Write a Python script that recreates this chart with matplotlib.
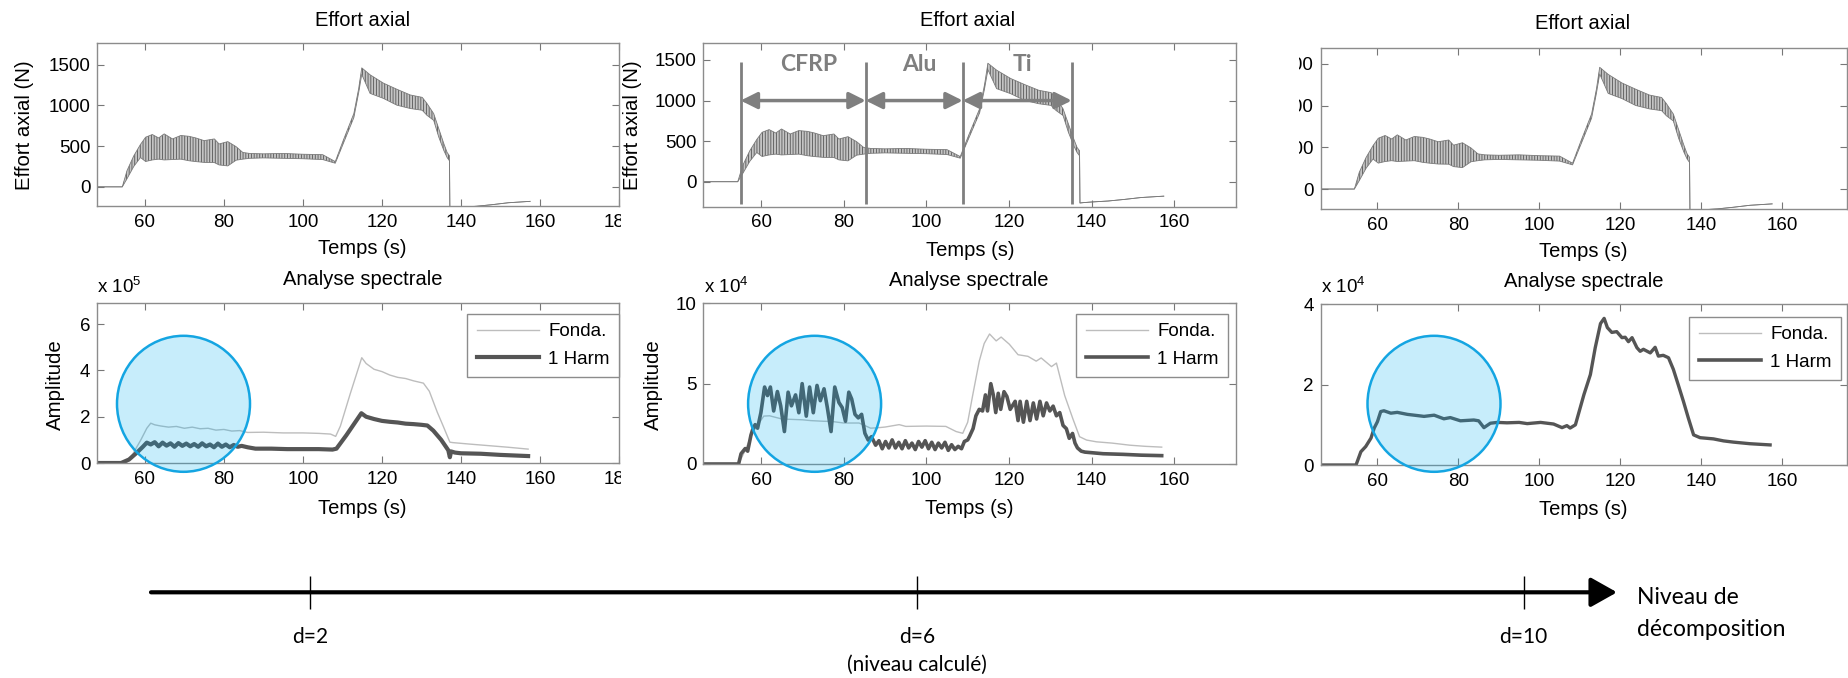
import matplotlib.pyplot as plt
from matplotlib.patches import Ellipse
from matplotlib.lines import Line2D
from matplotlib.transforms import Bbox, TransformedBbox

W, H = 1849, 678

# effort axial (N) : enveloppes basse / haute des oscillations
t_effort = [46, 54.3, 55.5, 57.2, 58.9, 60.2, 61.9, 63.5, 64.9, 67.0, 69.1, 71.2, 72.9, 75.0, 77.6, 78.8,
            81.0, 83.1, 84.8, 86.5, 90, 95, 100, 105, 108.2, 110.3, 112.9, 114.1, 114.9, 117.0, 120.4,
            123.8, 127.2, 130.2, 131.4, 133.1, 134.4, 135.7, 136.5, 137.1, 137.2, 138, 140, 144, 148,
            152, 157.5]
effort_hi = [0, 0, 200, 380, 520, 609, 642, 600, 650, 588, 630, 620, 600, 567, 588, 526, 555, 493, 422,
             410, 405, 410, 400, 395, 310, 580, 900, 1200, 1460, 1375, 1272, 1197, 1127, 1098, 1023, 899,
             712, 526, 422, 381, -262, -258, -250, -238, -218, -195, -178]
effort_lo = [0, 0, 100, 250, 360, 311, 330, 340, 330, 335, 340, 320, 310, 300, 298, 269, 257, 327, 340,
             350, 355, 350, 345, 335, 290, 540, 850, 1150, 1380, 1147, 1085, 1002, 961, 940, 878, 816,
             609, 443, 360, 319, -262, -258, -250, -238, -218, -195, -178]

zones = ['CFRP', 'Alu', 'Ti']
zone_edges = [55.0, 85.3, 108.8, 135.2]

# analyse spectrale, d=2 (x 1e5)
t_fonda_d2 = [48, 55.3, 57, 59, 60.5, 61.5, 62.5, 64, 66, 68, 70, 72, 74, 76, 78, 80, 82, 84, 86, 90,
              95, 100, 104, 107, 108.3, 109.5, 112, 114.9, 116, 118, 120, 122, 124, 126, 128, 130.5,
              132, 134, 135.5, 137.2, 138, 142, 147, 152, 157]
fonda_d2 = [0, 0, 0.4, 1.0, 1.5, 1.72, 1.65, 1.6, 1.55, 1.58, 1.5, 1.55, 1.48, 1.5, 1.42, 1.45, 1.38,
            1.4, 1.32, 1.33, 1.3, 1.3, 1.28, 1.25, 1.15, 1.6, 3.0, 4.55, 4.3, 4.05, 3.95, 3.8, 3.7,
            3.65, 3.55, 3.45, 3.1, 2.2, 1.6, 0.9, 0.88, 0.82, 0.75, 0.68, 0.6]
t_harm_d2 = [48, 54, 56, 58, 59.5, 60.5, 61.5, 62.5, 63.5, 64.5, 65.5, 66.5, 67.5, 68.5, 69.5, 70.5,
             71.5, 72.5, 73.5, 74.5, 75.5, 76.5, 77.5, 78.5, 79.5, 80.5, 81.5, 82.5, 83.5, 84.5, 86,
             88, 92, 96, 100, 104, 107.5, 108.5, 111, 113, 114.8, 116, 118, 120, 122, 124, 126, 128,
             130, 131.5, 133, 135, 136.8, 137.2, 137.5, 138.5, 140, 145, 150, 157]
harm_d2 = [0, 0, 0.15, 0.45, 0.7, 0.88, 0.8, 0.9, 0.72, 0.88, 0.75, 0.85, 0.7, 0.86, 0.74, 0.84, 0.72,
           0.82, 0.7, 0.85, 0.72, 0.8, 0.68, 0.84, 0.7, 0.8, 0.68, 0.78, 0.7, 0.74, 0.68, 0.62, 0.62,
           0.6, 0.6, 0.6, 0.58, 0.62, 1.2, 1.7, 2.15, 2.0, 1.9, 1.82, 1.78, 1.75, 1.7, 1.68, 1.65, 1.62,
           1.4, 1.0, 0.55, 0.25, 0.5, 0.45, 0.42, 0.4, 0.35, 0.3]

# d=6 (x 1e4)
t_fonda_d6 = [46, 54.5, 56, 58, 60.6, 62, 65, 68, 70, 72, 75, 77, 80, 83.7, 85, 86.5, 88, 90, 93.4, 95,
              100, 104.7, 107.2, 108.8, 110, 111.2, 112.8, 114, 115.3, 116.9, 118.1, 120.1, 122.2,
              124.6, 126.6, 127.8, 130.3, 131.5, 133.5, 135.5, 137.1, 138.8, 141.2, 145, 149.3, 153, 157]
fonda_d6 = [0, 0, 0.8, 2.0, 2.98, 3.0, 2.8, 2.77, 2.75, 2.7, 2.66, 2.65, 2.55, 2.55, 2.4, 2.23, 2.25,
            2.3, 2.45, 2.34, 2.36, 2.34, 2.02, 1.91, 2.6, 4.26, 6.4, 7.5, 8.09, 7.66, 7.9, 7.45, 6.8,
            6.7, 6.4, 6.6, 6.06, 6.28, 4.26, 2.8, 1.7, 1.49, 1.38, 1.3, 1.17, 1.1, 1.05]
t_harm_d6 = [46, 54.5, 55.1, 56.1, 56.7, 57.5, 57.9, 58.5, 59.1, 59.9, 60.8, 61.5, 62.2, 63.0, 63.9,
             64.7, 65.6, 66.5, 67.3, 68.3, 69.1, 69.9, 70.9, 71.7, 72.6, 73.5, 74.3, 75.2, 76.0, 76.9,
             77.8, 78.8, 79.6, 80.4, 81.2, 81.9, 82.7, 83.5, 84.3, 85.1, 85.9, 86.7, 87.7, 88.5, 89.3,
             90.1, 90.9, 91.7, 92.5, 93.3, 94.1, 94.9, 95.7, 96.5, 97.3, 98.1, 98.9, 99.7, 100.5,
             101.3, 102.1, 102.9, 103.7, 104.5, 105.3, 106.1, 106.9, 107.7, 108.5, 109.2, 110.0,
             110.5, 111.3, 112.0, 112.8, 113.6, 114.3, 114.8, 115.6, 116.2, 116.8, 117.4, 118.0,
             118.8, 119.5, 120.3, 121.5, 122.2, 122.7, 123.5, 124.3, 125.1, 125.9, 126.7, 127.5,
             128.3, 129.1, 129.9, 130.7, 131.5, 132.3, 133.1, 133.9, 134.6, 135.4, 136.0, 136.6,
             137.5, 138.4, 142.8, 147.7, 152.0, 157.0]
harm_d6 = [0, 0, 0.64, 0.96, 0.8, 1.8, 2.13, 2.45, 2.23, 3.19, 4.79, 4.26, 4.79, 3.3, 4.51, 3.62, 2.02,
           4.47, 3.62, 4.3, 3.19, 5.0, 2.98, 4.79, 3.19, 4.89, 3.94, 4.68, 3.51, 2.02, 4.79, 3.83,
           3.51, 2.66, 4.47, 4.04, 3.09, 2.87, 3.09, 1.91, 1.49, 1.7, 1.17, 1.45, 0.95, 1.4, 1.0, 1.5,
           1.0, 1.35, 0.95, 1.45, 1.0, 1.3, 0.9, 1.4, 1.05, 1.45, 0.95, 1.35, 0.9, 1.3, 1.0, 1.35,
           0.85, 1.2, 0.9, 1.1, 0.95, 1.4, 1.5, 1.75, 2.2, 3.0, 3.4, 3.3, 4.3, 3.3, 5.0, 4.3, 3.2, 4.4,
           3.4, 4.5, 4.2, 3.4, 3.9, 2.7, 3.9, 2.6, 3.9, 2.7, 3.8, 2.8, 3.9, 3.0, 3.8, 3.3, 3.6, 3.0,
           3.2, 2.4, 2.2, 1.6, 1.9, 1.3, 1.0, 0.8, 0.74, 0.64, 0.6, 0.55, 0.52]

# d=10 (x 1e4), fondamentale confondue avec l'harmonique
t_harm_d10 = [46, 54.7, 55.9, 57.1, 58.4, 59.2, 60, 60.8, 61.6, 63.3, 64.9, 67.4, 69.9, 71.5, 74, 76.4,
              78, 80.5, 83.8, 85, 86.3, 87.9, 89.6, 92, 95, 97, 100.3, 103.5, 105.6, 106.8, 107.6,
              108.9, 111, 112.6, 113.8, 115.1, 116, 116.8, 117.9, 119.1, 120.4, 121.2, 122, 122.9,
              124.1, 124.9, 125.7, 127.4, 128.6, 129.4, 130.6, 131.9, 133.1, 134.3, 135.6, 136.8,
              138.1, 139.7, 143, 145.5, 147.9, 152, 157]
harm_d10 = [0, 0, 0.33, 0.46, 0.67, 0.92, 1.08, 1.33, 1.35, 1.29, 1.31, 1.26, 1.23, 1.21, 1.24, 1.15,
            1.18, 1.1, 1.12, 1.1, 0.93, 1.04, 1.06, 1.05, 1.06, 1.03, 1.06, 1.02, 0.93, 0.98, 0.92,
            1.0, 1.75, 2.25, 2.92, 3.52, 3.65, 3.42, 3.3, 3.32, 3.17, 3.18, 3.07, 3.17, 2.92, 2.83,
            2.88, 2.79, 2.93, 2.71, 2.73, 2.67, 2.38, 2.0, 1.58, 1.17, 0.75, 0.68, 0.65, 0.6, 0.57,
            0.53, 0.5]

levels = ['d=2', 'd=6', 'd=10']
level_notes = ['', '(niveau calculé)', '']

plt.rcParams['font.family'] = ['Liberation Sans', 'DejaVu Sans']
plt.rcParams['font.size'] = 13.5
plt.rcParams['hatch.color'] = '#555555'
plt.rcParams['hatch.linewidth'] = 0.6

GRID = '#8c8c8c'
FONDA = '#bdbdbd'
HARM = '#555555'

fig = plt.figure(figsize=(W / 100, H / 100), dpi=100)


def px_axes(left, top, right, bottom):
    return fig.add_axes([left / W, 1 - bottom / H, (right - left) / W, (bottom - top) / H])


def style(ax, xlim, ylim, xticks, yticks):
    ax.set_xlim(xlim)
    ax.set_ylim(ylim)
    ax.set_xticks(xticks)
    ax.set_yticks(yticks)
    ax.tick_params(direction='in', top=True, right=True, length=5, width=0.8,
                   color='#777777', labelsize=13.5)
    ax.tick_params(axis='x', pad=5.5)
    ax.tick_params(axis='y', pad=5)
    for s in ax.spines.values():
        s.set_color(GRID)
        s.set_linewidth(1)


def plot_effort(ax):
    ax.fill_between(t_effort, effort_lo, effort_hi, facecolor='#c4c4c4', edgecolor='#555555',
                    hatch='||||||', linewidth=0)
    ax.plot(t_effort, effort_hi, color='#7a7a7a', lw=0.6)
    ax.plot(t_effort, effort_lo, color='#7a7a7a', lw=0.6)


def clip_labels(labels, x0, x1):
    box = TransformedBbox(Bbox.from_extents(x0 / W, 0, x1 / W, 1), fig.transFigure)
    for lab in labels:
        lab.set_clip_box(box)
        lab.set_clip_on(True)


def legend(ax, right, top, handles):
    ax.legend(handles, ['Fonda.', '1 Harm'], loc='upper right', bbox_to_anchor=(right / W, 1 - top / H),
              bbox_transform=fig.transFigure, fancybox=False, edgecolor=GRID, framealpha=1,
              fontsize=13.5, handlelength=3.3, handletextpad=0.5, borderpad=0.5, labelspacing=0.55,
              borderaxespad=0)


# effort axial
ax1 = px_axes(97.4, 43, 619, 206)
plot_effort(ax1)
style(ax1, (48, 180), (-235, 1765), range(60, 181, 20), [0, 500, 1000, 1500])
clip_labels(ax1.get_xticklabels(), 0, 621)

ax2 = px_axes(703.5, 42.7, 1236, 206.7)
plot_effort(ax2)
style(ax2, (46, 175), (-308, 1713), range(60, 161, 20), [0, 500, 1000, 1500])
ax2.vlines(zone_edges, -275, 1480, color='#7f7f7f', lw=2)
for i, name in enumerate(zones):
    a, b = zone_edges[i], zone_edges[i + 1]
    ax2.annotate('', xy=(b, 1000), xytext=(a, 1000),
                 arrowprops=dict(arrowstyle='<|-|>', color='#7f7f7f', lw=2.5,
                                 mutation_scale=25, shrinkA=0, shrinkB=0))
    ax2.text((a + b) / 2 + 1.3, 1447, name, ha='center', va='center', color='#7f7f7f',
             fontsize=16.5, fontweight='bold', family='Lato')

ax3 = px_axes(1320.8, 47.7, 1847, 209.3)
plot_effort(ax3)
style(ax3, (46, 176), (-243, 1695), range(60, 161, 20), [0, 500, 1000, 1500])
clip_labels(ax3.get_yticklabels(), 1299, W)

# analyse spectrale
ax4 = px_axes(97.4, 303.3, 619, 463)
lf, = ax4.plot(t_fonda_d2, fonda_d2, color=FONDA, lw=1)
lh, = ax4.plot(t_harm_d2, harm_d2, color=HARM, lw=3)
style(ax4, (48, 180), (0, 6.9), range(60, 181, 20), [0, 2, 4, 6])
clip_labels(ax4.get_xticklabels(), 0, 621)
legend(ax4, 619, 314, [lf, lh])

ax5 = px_axes(703.5, 303.3, 1236, 464)
lf, = ax5.plot(t_fonda_d6, fonda_d6, color=FONDA, lw=1)
lh, = ax5.plot(t_harm_d6, harm_d6, color=HARM, lw=2.6)
style(ax5, (46, 175), (0, 10), range(60, 161, 20), [0, 5, 10])
legend(ax5, 1228, 314, [lf, lh])

ax6 = px_axes(1320.8, 304.3, 1847, 465)
ax6.plot(t_harm_d10, harm_d10, color=HARM, lw=2.4)
style(ax6, (46, 176), (0, 4), range(60, 161, 20), [0, 2, 4])
legend(ax6, 1841, 316.7, [Line2D([], [], color=FONDA, lw=1), Line2D([], [], color=HARM, lw=2.6)])

# textes, cercles et axe des niveaux en coordonnees pixel
ov = fig.add_axes([0, 0, 1, 1], zorder=10)
ov.set_xlim(0, W)
ov.set_ylim(H, 0)
ov.axis('off')
ov.patch.set_visible(False)

for x, y in [(362.5, 20.7), (968, 20.7), (1583, 23.3)]:
    ov.text(x, y, 'Effort axial', ha='center', va='center', fontsize=14.5)
for x, y in [(362.5, 249), (969.8, 250), (1583.7, 251.7), (362.5, 508.3), (969, 508.3), (1583.7, 509.3)]:
    ov.text(x, y, 'Temps (s)', ha='center', va='center', fontsize=14.5)
for x, y in [(362.5, 279.3), (969, 280), (1583.7, 281.7)]:
    ov.text(x, y, 'Analyse spectrale', ha='center', va='center', fontsize=14.5)
for x in [25, 632]:
    ov.text(x, 125, 'Effort axial (N)', ha='center', va='center', rotation=90, fontsize=14.7)
for x in [55.6, 653.8]:
    ov.text(x, 385, 'Amplitude', ha='center', va='center', rotation=90, fontsize=14.7)
for x, e in [(97, '5'), (704, '4'), (1321, '4')]:
    ov.text(x, 287, r'x 10$^{\mathregular{%s}}$' % e, ha='left', va='center', fontsize=13.5)

for cx in [183.5, 814.6, 1434]:
    ov.add_patch(Ellipse((cx, 403.8), 133, 136, facecolor=(0.0, 0.69, 0.94, 0.22),
                         edgecolor='#14a5e2', lw=1.8))

ov.annotate('', xy=(1617, 592.3), xytext=(151, 592.3),
            arrowprops=dict(arrowstyle='-|>,head_length=0.8,head_width=0.45', color='black',
                            lw=3, mutation_scale=20, shrinkA=0, shrinkB=0))
level_x = [310, 917.4, 1523.5]
ov.vlines(level_x, 576, 609, color='black', lw=1)
for x, lab, note in zip(level_x, levels, level_notes):
    ov.text(x, 637, lab, ha='center', va='center', fontsize=15, family='Lato')
    if note:
        ov.text(x, 665, note, ha='center', va='center', fontsize=15, family='Lato')
ov.text(1637, 598, 'Niveau de', ha='left', va='center', fontsize=16.5, family='Lato')
ov.text(1637, 629, 'décomposition', ha='left', va='center', fontsize=16.5, family='Lato')

fig.savefig('out.png', dpi=100)
